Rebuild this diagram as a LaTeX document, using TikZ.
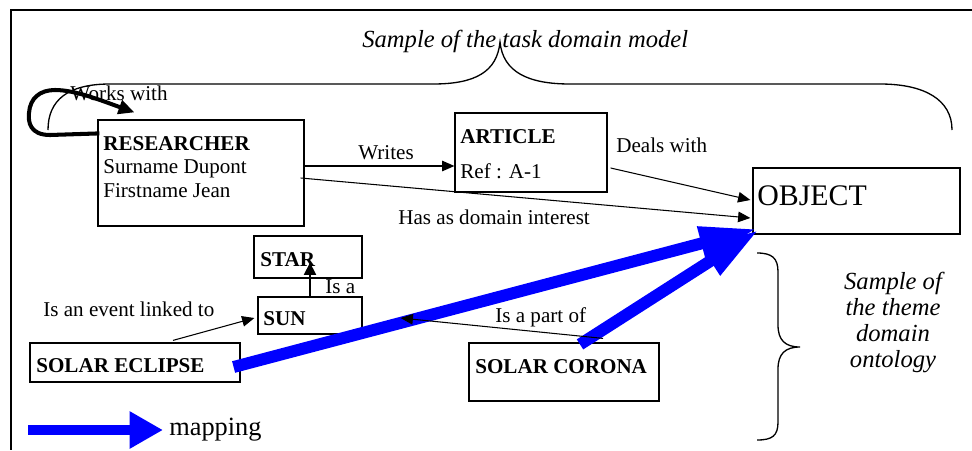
\documentclass[tikz,border=0pt]{standalone}
\usepackage{fontspec}
\setmainfont{Liberation Serif}
\usetikzlibrary{positioning, arrows.meta, fit}
\definecolor{mapblue}{HTML}{0000FF}

\begin{document}
\begin{tikzpicture}[
    x=0.02cm, y=-0.02cm,
    box/.style={rectangle, draw, line width=0.7pt, inner sep=0pt},
    boxtext/.style={inner sep=0pt, align=left, font=\fontsize{12}{13.3}\selectfont},
    entity/.style={anchor=base west, inner sep=0pt, font=\fontsize{12}{13.3}\selectfont\bfseries},
    rel/.style={-{Triangle[length=7pt, width=6pt]}, line width=0.6pt},
    role/.style={anchor=base west, inner sep=0pt, font=\fontsize{12}{13.3}\selectfont},
    note/.style={inner sep=0pt, font=\fontsize{14}{14.7}\selectfont\itshape},
    brace/.style={line width=0.75pt},
    selfloop/.style={-{Triangle[length=9pt, width=8pt]}, line width=2.3pt},
    mapping/.style={mapblue, line width=6.8pt, -{Triangle[length=33pt, width=18pt]}},
    mapkeyarrow/.style={mapblue, line width=6.2pt, -{Triangle[length=19pt, width=20pt]}}
  ]
    \useasboundingbox (0,0) rectangle (972,450);
    \draw[line width=0.7pt] (972,10) -- (11,10) -- (11,450);

    % task domain model
    \node[box, fit={(98,120) (304,226)}] (res) {};
    \node[boxtext, anchor=north west] (restext) at (103,136)
      {\textbf{RESEARCHER}\\Surname Dupont\\Firstname Jean};
    \node[box, fit={(455,113) (607,192)}] (art) {};
    \node[boxtext, anchor=north west] (arttext) at (460,129)
      {\textbf{ARTICLE}\\[6.5pt]Ref : A-1};
    \node[box, fit={(753,168) (960,234)}] (obj) {};
    \node[anchor=base west, inner sep=0pt, font=\fontsize{17}{19}\selectfont] (objtext) at (757,205) {OBJECT};

    \node[note, anchor=base west] (taskdom) at (362,47) {Sample of the task domain model};
    \draw[brace] (48,130) .. controls (48,100) and (68,84) .. (110,84) -- (433,84)
      .. controls (475,84) and (497,72) .. (500,42)
      .. controls (503,72) and (528,84) .. (570,84) -- (880,84)
      .. controls (925,84) and (952,100) .. (952,130);

    \draw[selfloop] ([shift={(2,14)}]res.north west) -- (50,135)
      .. controls (30,135) and (28,122) .. (29,113)
      .. controls (30,98) and (40,90) .. (55,90)
      .. controls (75,90) and (100,100) .. ([shift={(37,-7)}]res.north west);
    \node[role] (lwork) at (70,100) {Works with};

    \draw[rel] ([shift={(0,-7)}]res.east) -- ([shift={(0,13.5)}]art.west);
    \node[role] (lwrite) at (358,159) {Writes};
    \draw[rel] ([shift={(-4,5)}]res.east) -- ([shift={(-2,17)}]obj.west);
    \node[role] (linterest) at (398,224) {Has as domain interest};
    \draw[rel] ([shift={(3,15.5)}]art.east) -- ([shift={(-2,-1)}]obj.west);
    \node[role] (ldeals) at (616,152) {Deals with};

    % theme domain ontology
    \node[box, fit={(254,236) (362,278)}] (star) {};
    \node[entity] (startext) at (260,266) {STAR};
    \node[box, fit={(258,297) (362,334)}] (sun) {};
    \node[entity] (suntext) at (263,325) {SUN};
    \node[box, fit={(30,343) (240,382)}] (ecl) {};
    \node[entity] (ecltext) at (36,372) {SOLAR ECLIPSE};
    \node[box, fit={(469,343) (659,401)}] (cor) {};
    \node[entity] (cortext) at (475,373) {SOLAR CORONA};

    % mapping between the two models
    \draw[mapping] ([shift={(-7,4.5)}]ecl.east) -- ([shift={(5,-6)}]obj.south west);
    \draw[mapping] ([shift={(16,2)}]cor.north) -- ([shift={(7,-5)}]obj.south west);

    \draw[rel, -{Triangle[length=7pt, width=7pt]}] (sun.north) -- ([shift={(2,-16)}]star.south);
    \node[role] (lisa) at (325,293) {Is a};
    \draw[rel] ([shift={(38,-2)}]ecl.north) -- ([shift={(-3,2.5)}]sun.west);
    \node[role] (levent) at (43,316) {Is an event linked to};
    \draw[rel] ([shift={(39,-4)}]cor.north) -- ([shift={(38,2.5)}]sun.east);
    \node[role] (lpart) at (495,322) {Is a part of};

    \draw[brace] (757,253) .. controls (772,253) and (778,258) .. (778,272) -- (778,325)
      .. controls (778,340) and (785,347) .. (800,347)
      .. controls (785,347) and (778,354) .. (778,369) -- (778,422)
      .. controls (778,436) and (772,440) .. (757,440);
    \node[note, anchor=north, align=center] (themedom) at (893,272)
      {Sample of\\the theme\\domain\\ontology};

    \coordinate (legtail) at (28,430);
    \node[anchor=west, inner xsep=3.4pt, inner ysep=0pt, font=\fontsize{15}{17}\selectfont] (mapkey) at (163,430) {mapping};
    \draw[mapkeyarrow] (legtail) -- (mapkey);
  \end{tikzpicture}
\end{document}
